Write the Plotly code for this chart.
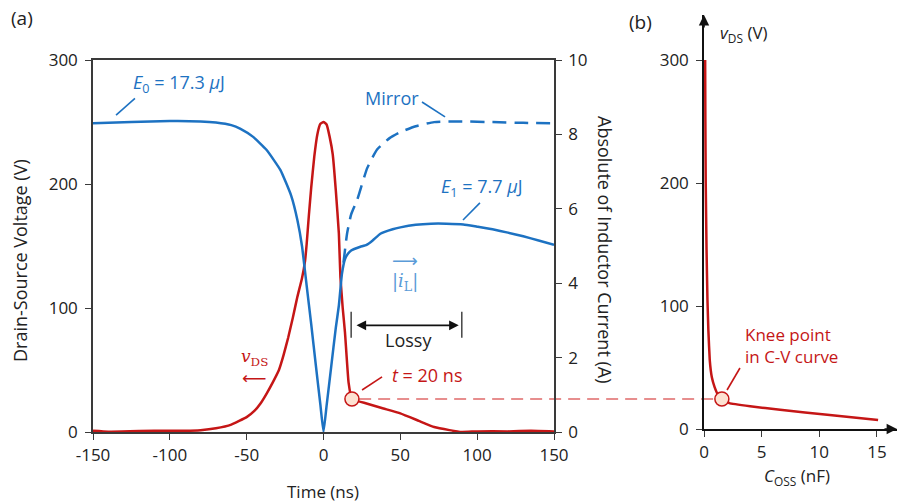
import plotly.graph_objects as go

# ---------------- data ----------------
# Panel (a): inductor current |iL| (A) vs time (ns)
t_il = [-150, -125, -100, -80, -70, -60, -54, -46, -37, -28, -21, -17, -14, -11, -8, -5, -2, 0,
        2, 5, 8, 10, 12, 14, 16, 18, 20, 24, 28, 32, 37, 45, 50, 60, 70, 80, 91, 100, 110,
        120, 130, 140, 150]
i_l = [8.30, 8.33, 8.36, 8.35, 8.32, 8.25, 8.15, 7.94, 7.58, 7.04, 6.35, 5.70, 5.00, 3.95, 2.90, 1.80, 0.72, 0.0,
       0.70, 1.75, 2.80, 3.40, 4.25, 4.65, 4.80, 4.88, 4.92, 4.98, 5.03, 5.15, 5.33, 5.45, 5.50, 5.57, 5.60, 5.60, 5.58, 5.52, 5.45,
       5.36, 5.26, 5.15, 5.03]

# Mirror (lossless) current
t_mirror = [13, 15.4, 18, 22, 28.5, 35, 43, 50, 60, 72, 90, 110, 130, 150]
i_mirror = [4.55, 5.35, 5.85, 6.25, 7.10, 7.60, 7.90, 8.06, 8.22, 8.33, 8.35, 8.33, 8.31, 8.30]

# Drain-source voltage (V)
t_vds = [-150, -140, -120, -100, -90, -80, -70, -60, -50, -45, -41, -37, -33, -29, -26, -23,
         -20, -17, -14, -12, -11, -9.5, -8, -6, -4, -2, 0, 2, 4, 6, 8, 10, 11, 12.5, 14, 16.3, 18.5,
         28, 39, 50, 62, 72, 82, 90, 100, 120, 135, 150]
v_ds = [1.0, 0.3, 0.8, 1.0, 1.0, 1.5, 3.0, 6.0, 12, 17, 23, 31, 40, 50, 62, 76,
        92, 109, 124, 138, 151, 175, 197, 222, 240, 248.5, 250, 248, 238, 224, 195, 160, 125, 100, 80, 40, 26.6,
        23, 19, 15, 9, 4, 1.5, 0.0, 0.5, 0.5, 1.0, 0.5]

# Knee point (t = 20 ns)
knee_t = [18.5]
knee_v = [26.6]

# Panel (b): C-V curve of Coss
c_oss = [0.10, 0.12, 0.15, 0.22, 0.30, 0.38, 0.50, 0.68, 0.92, 1.20, 1.55, 2.2, 4.0, 6.6, 10.9, 15.1]
v_cv = [300, 250, 200, 146, 105, 80, 56, 42, 34, 28, 24.4, 21, 18.5, 15.6, 11.4, 7.3]
knee_c = [1.55]
knee_cv = [24.4]

# Lossy interval
lossy_t = [18, 90]

a_xticks = [-150, -100, -50, 0, 50, 100, 150]
a_xticktext = ["-150", "-100", "-50", "0", "50", "100", "150"]
a_yticks = [0, 100, 200, 300]
a_y2ticks = [0, 2, 4, 6, 8, 10]
b_xticks = [0, 5, 10, 15]
b_yticks = [0, 100, 200, 300]

# ---------------- style ----------------
W, H = 901, 504
BLUE = "#1d72c2"
LBLUE = "#5a9bd8"
RED = "#c51616"
LRED = "#e06a6a"
TXT = "#222222"
AX = "#3a3a3a"
FONT = "Open Sans"

dom_ax = [93 / W, 554 / W]
dom_ay = [1 - 432 / H, 1 - 60 / H]
dom_bx = [704 / W, 897 / W]
dom_by = [1 - 429 / H, 1 - 15 / H]
bx_range = [0, (897 - 704) / 11.53]
by_range = [0, 300 + 45 / 1.23]

fig = go.Figure()

fig.add_trace(go.Scatter(x=t_vds, y=v_ds, mode="lines", line=dict(color=RED, width=2.5, shape="spline", smoothing=0.35),
                         xaxis="x", yaxis="y", hoverinfo="skip"))
fig.add_trace(go.Scatter(x=t_il, y=i_l, mode="lines", line=dict(color=BLUE, width=2.5, shape="spline", smoothing=0.4),
                         xaxis="x", yaxis="y2", hoverinfo="skip"))
fig.add_trace(go.Scatter(x=t_mirror, y=i_mirror, mode="lines",
                         line=dict(color=BLUE, width=2.5, dash="14px,8px", shape="spline", smoothing=0.5),
                         xaxis="x", yaxis="y2", hoverinfo="skip"))
fig.add_trace(go.Scatter(x=knee_t, y=knee_v, mode="markers",
                         marker=dict(size=14, color="#fde2d2", line=dict(color=RED, width=1.5)),
                         xaxis="x", yaxis="y", hoverinfo="skip"))
fig.add_trace(go.Scatter(x=c_oss, y=v_cv, mode="lines", line=dict(color=RED, width=2.5, shape="spline", smoothing=0.3),
                         xaxis="x2", yaxis="y3", hoverinfo="skip"))
fig.add_trace(go.Scatter(x=knee_c, y=knee_cv, mode="markers",
                         marker=dict(size=14, color="#fde2d2", line=dict(color=RED, width=1.5)),
                         xaxis="x2", yaxis="y3", hoverinfo="skip"))

tickfont = dict(family=FONT, size=17, color=TXT)
common = dict(showgrid=False, zeroline=False, ticks="outside", ticklen=6, tickwidth=1.2,
              tickcolor=AX, showline=True, linecolor=AX, linewidth=1.5, tickfont=tickfont, automargin=False)

fig.update_layout(
    width=W, height=H, margin=dict(l=0, r=0, t=0, b=0, pad=0, autoexpand=False),
    paper_bgcolor="white", plot_bgcolor="rgba(0,0,0,0)", showlegend=False,
    font=dict(family=FONT, color=TXT),
    xaxis=dict(domain=dom_ax, range=[-150, 150], tickvals=a_xticks, ticktext=a_xticktext, anchor="y", mirror=True,
               ticklabelstandoff=1, **common),
    yaxis=dict(domain=dom_ay, range=[0, 300], tickvals=a_yticks, anchor="x", ticklabelstandoff=4, **common),
    yaxis2=dict(domain=dom_ay, range=[0, 10], tickvals=a_y2ticks, anchor="x", overlaying="y", side="right",
                ticklabelstandoff=3, **common),
    xaxis2=dict(domain=dom_bx, range=bx_range, tickvals=b_xticks, anchor="y3", ticklabelstandoff=1,
                **{**common, "linecolor": "#111111"}),
    yaxis3=dict(domain=dom_by, range=by_range, tickvals=b_yticks, anchor="x2", ticklabelstandoff=4,
                **{**common, "linecolor": "#111111"}),
)


def px_a(t):
    return dom_ax[0] + (t + 150) / 300 * (dom_ax[1] - dom_ax[0])


def px_b(c):
    return dom_bx[0] + (c - bx_range[0]) / (bx_range[1] - bx_range[0]) * (dom_bx[1] - dom_bx[0])


shapes = []
# horizontal dashed link between knee points
shapes.append(dict(type="line", xref="paper", yref="y", x0=px_a(knee_t[0]) + 0.008, x1=px_b(knee_c[0]) - 0.008,
                   y0=knee_v[0], y1=knee_v[0], line=dict(color=LRED, width=1.6, dash="12px,7px"), layer="below"))
# Lossy bars
for tb in lossy_t:
    shapes.append(dict(type="line", xref="x", yref="y", x0=tb, x1=tb, y0=76, y1=97,
                       line=dict(color="#444444", width=1.5)))
# leader lines
leaders = [
    ("x", "y2", -135, 8.52, -122.7, 8.97, BLUE),
    ("x", "y2", 64.1, 8.87, 79.1, 8.47, BLUE),
    ("x", "y2", 101.8, 6.16, 90.8, 5.70, BLUE),
    ("x", "y", 25.1, 33.9, 38.1, 44.4, RED),
    ("x2", "y3", 2.0, 31.7, 3.12, 49.6, RED),
]
for xr, yr, x0, y0, x1, y1, col in leaders:
    shapes.append(dict(type="line", xref=xr, yref=yr, x0=x0, y0=y0, x1=x1, y1=y1, line=dict(color=col, width=1.6)))
fig.update_layout(shapes=shapes)

ann = []


def txt(text, x, y, xref="paper", yref="paper", size=18, color=TXT, angle=0, xanchor="center", family=FONT,
        yanchor="middle", align="center"):
    ann.append(dict(text=text, x=x, y=y, xref=xref, yref=yref, showarrow=False, textangle=angle,
                    font=dict(family=family, size=size, color=color), xanchor=xanchor, yanchor=yanchor, align=align))


txt("(a)", 22 / W, 1 - 18 / H, size=19)
txt("(b)", 640 / W, 1 - 22 / H, size=19)
txt("Time (ns)", 323 / W, 1 - 491 / H, size=17)
txt("Drain-Source Voltage (V)", 20 / W, 1 - 261 / H, size=18, angle=-90)
txt("Absolute of Inductor Current (A)", 605 / W, 1 - 250 / H, size=18, angle=90)
txt("<i>C</i><sub>OSS</sub> (nF)", 797 / W, 1 - 476 / H, size=17)
txt("<i>v</i><sub>DS</sub> (V)", 718 / W, 1 - 34 / H, size=17, xanchor="left")

txt("<i>E</i><sub>0</sub> = 17.3 <i>μ</i>J", -94, 9.38, "x", "y2", size=18, color=BLUE)
txt("Mirror", 44.6, 8.97, "x", "y2", size=18, color=BLUE)
txt("<i>E</i><sub>1</sub> = 7.7 <i>μ</i>J", 103, 6.56, "x", "y2", size=18, color=BLUE)
txt("⟶", 53, 4.62, "x", "y2", size=18, color=LBLUE, family="DejaVu Sans")
txt("|<i>i</i><sub>L</sub>|", 53, 4.03, "x", "y2", size=18, color=LBLUE, family="DejaVu Serif")
txt("<i>v</i><sub>DS</sub>", -45.2, 60, "x", "y", size=17, color=RED, family="DejaVu Serif")
txt("⟵", -45.2, 43.5, "x", "y", size=17, color=RED, family="DejaVu Sans")
txt("<i>t</i> = 20 ns", 67.4, 46, "x", "y", size=18, color=RED)
txt("Lossy", 55.6, 74, "x", "y", size=18, color=TXT)
txt("Knee point<br>in C-V curve", 3.38, 68, "x2", "y3", size=17, color=RED, xanchor="left", align="left")

# Lossy double arrow
ann.append(dict(x=lossy_t[1] - 2, y=86, ax=lossy_t[0] + 2.5, ay=86, xref="x", yref="y", axref="x", ayref="y",
                text="", showarrow=True, arrowhead=2, startarrowhead=2, arrowside="end+start",
                arrowsize=1.2, arrowwidth=1.6, arrowcolor="#111111"))
# axis arrows for panel (b)
ann.append(dict(x=bx_range[1], y=0, xref="x2", yref="y3", ax=-14, ay=0, text="", showarrow=True,
                arrowhead=2, arrowsize=1.3, arrowwidth=1.6, arrowcolor="#111111"))
ann.append(dict(x=0, y=by_range[1], xref="x2", yref="y3", ax=0, ay=14, text="", showarrow=True,
                arrowhead=2, arrowsize=1.3, arrowwidth=1.6, arrowcolor="#111111"))
fig.update_layout(annotations=ann)

fig.write_html("out.html")
